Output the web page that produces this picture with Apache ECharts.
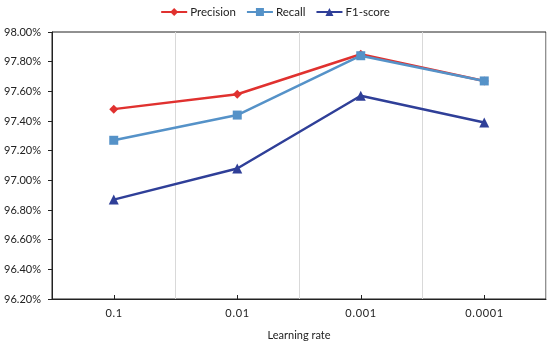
<!DOCTYPE html>
<html><head><meta charset="utf-8">
<script src="https://cdn.jsdelivr.net/npm/echarts@6/dist/echarts.min.js"></script>
<style>html,body{margin:0;padding:0;background:#fff}#c{width:550px;height:346px}</style>
</head><body><div id="c"></div>
<script>
var categories = ['0.1', '0.01', '0.001', '0.0001'];
var precision = [97.48, 97.58, 97.85, 97.67];
var recall = [97.27, 97.44, 97.84, 97.67];
var f1 = [96.87, 97.08, 97.57, 97.39];
var seriesNames = ['Precision', 'Recall', 'F1-score'];

var font = 'Lato, "Open Sans", sans-serif';
var chart = echarts.init(document.getElementById('c'), null, {renderer: 'canvas'});
function mk(name, data, color, symbol, size) {
  return {
    name: name, type: 'line', data: data, symbol: symbol, symbolSize: size,
    lineStyle: {color: color, width: 2.5}, itemStyle: {color: color}
  };
}
chart.setOption({
  animation: false,
  textStyle: {fontFamily: font},
  legend: {
    top: 1, left: 'center', itemWidth: 26, itemHeight: 10, itemGap: 10,
    textStyle: {fontFamily: font, fontSize: 11.5, color: '#222', padding: [0, 0, 0, -2]},
    data: seriesNames
  },
  grid: {left: 52, right: 4, top: 32, bottom: 41, show: true, borderColor: '#222', borderWidth: 1},
  xAxis: {
    type: 'category', data: categories, boundaryGap: true,
    name: 'Learning rate', nameLocation: 'middle', nameGap: 31,
    nameTextStyle: {fontFamily: font, fontSize: 11, color: '#222'},
    axisLine: {lineStyle: {color: '#222', width: 1}},
    axisTick: {show: true, alignWithLabel: true, inside: true, length: 4, lineStyle: {color: '#222'}},
    axisLabel: {fontFamily: font, fontSize: 11, color: '#222', margin: 9,
      formatter: function (v) { return v.split('').join('\u200A'); }},
    splitLine: {show: true, lineStyle: {color: '#d9d9d9', width: 1}}
  },
  yAxis: {
    type: 'value', min: 96.2, max: 98.0, interval: 0.2,
    axisLine: {show: true, lineStyle: {color: '#222', width: 1}},
    axisTick: {show: true, length: 4, lineStyle: {color: '#222'}},
    axisLabel: {fontFamily: font, fontSize: 11, color: '#222', margin: 11,
      formatter: function (v) { return v.toFixed(2) + '%'; }},
    splitLine: {show: false}
  },
  series: [
    mk(seriesNames[0], precision, '#e0312f', 'diamond', 9),
    mk(seriesNames[1], recall, '#5592c8', 'rect', 9),
    mk(seriesNames[2], f1, '#2f3f98', 'triangle', 10)
  ]
});
</script></body></html>
